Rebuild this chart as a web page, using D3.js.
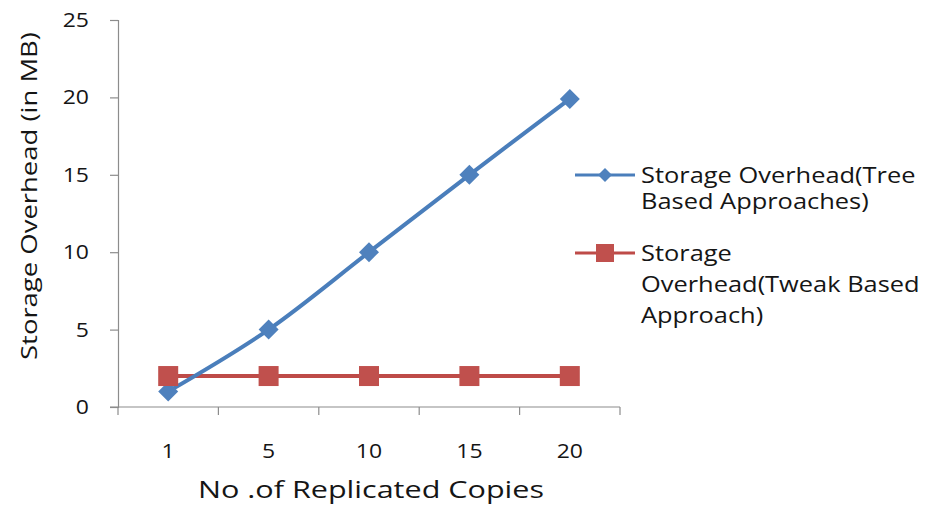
<!DOCTYPE html>
<html>
<head>
<meta charset="utf-8">
<script src="https://cdn.jsdelivr.net/npm/d3@7"></script>
<style>
  html, body { margin: 0; padding: 0; background: #fff; }
  svg { display: block; }
  text { font-family: "Open Sans", "Noto Sans", sans-serif; fill: #151515; }
</style>
</head>
<body>
<svg id="chart" width="935" height="505"></svg>
<script>
// Number of replicated copies (x categories)
const categories = ["1", "5", "10", "15", "20"];
// Storage overhead in MB for each approach
const treeBased = [1, 5, 10, 15, 19.9];
const tweakBased = [2, 2, 2, 2, 2];
const yTicks = [0, 5, 10, 15, 20, 25];
const seriesNames = [
  ["Storage Overhead(Tree", "Based Approaches)"],
  ["Storage", "Overhead(Tweak Based", "Approach)"]
];

const svg = d3.select("#chart");
const plot = { left: 118, right: 620, top: 20, bottom: 407 };

const x = d3.scaleBand().domain(categories).range([plot.left, plot.right]);
const y = d3.scaleLinear().domain([0, 25]).range([plot.bottom, plot.top]);

const axisColor = "#8c8c8c";

// Widen a text element's glyphs by a factor (the chart's face is a broad one)
function widen(sel, k) {
  sel.each(function () {
    const w = this.getComputedTextLength();
    d3.select(this).attr("textLength", w * k).attr("lengthAdjust", "spacingAndGlyphs");
  });
}

// Y axis
const yAxis = svg.append("g").attr("transform", `translate(${plot.left},0)`)
  .call(d3.axisLeft(y).tickValues(yTicks).tickSize(8).tickPadding(21));
yAxis.select(".domain").attr("stroke", axisColor).attr("stroke-width", 1.2);
yAxis.selectAll(".tick line").attr("stroke", axisColor).attr("stroke-width", 1.2);
yAxis.selectAll(".tick text").style("font-size", "20.5px").attr("fill", "#151515")
  .call(widen, 1.12);

// X axis: ticks between categories, labels at category centres
const xAxis = svg.append("g").attr("transform", `translate(0,${plot.bottom})`);
xAxis.append("line").attr("x1", plot.left - 8).attr("x2", plot.right)
  .attr("stroke", axisColor).attr("stroke-width", 1.2);
const boundaries = categories.map(c => x(c)).concat([plot.right]);
xAxis.selectAll("line.sep").data(boundaries).enter().append("line")
  .attr("class", "sep")
  .attr("x1", d => d).attr("x2", d => d)
  .attr("y1", 0).attr("y2", 8)
  .attr("stroke", axisColor).attr("stroke-width", 1.2);
xAxis.selectAll("text").data(categories).enter().append("text")
  .attr("x", d => x(d) + x.bandwidth() / 2)
  .attr("y", 51)
  .attr("text-anchor", "middle")
  .style("font-size", "20.5px")
  .text(d => d)
  .call(widen, 1.12);

// Axis titles
svg.append("text")
  .attr("x", 371).attr("y", 498)
  .attr("text-anchor", "middle")
  .style("font-size", "23.5px")
  .text("No .of Replicated Copies")
  .call(widen, 1.3);
svg.append("text")
  .attr("transform", `translate(37,196) rotate(-90)`)
  .attr("text-anchor", "middle")
  .style("font-size", "22.5px")
  .text("Storage Overhead (in MB)")
  .call(widen, 1.22);

const cx = d => x(d) + x.bandwidth() / 2;
const blue = "#4a7ebb", blueMarker = "#4f81bd";
const red = "#be4b48", redMarker = "#c0504d";

// Tweak-based series
const redLine = d3.line().x((d, i) => cx(categories[i])).y(d => y(d));
svg.append("path").datum(tweakBased)
  .attr("d", redLine).attr("fill", "none")
  .attr("stroke", red).attr("stroke-width", 4);

// Tree-based series (smoothed)
const blueLine = d3.line().x((d, i) => cx(categories[i])).y(d => y(d))
  .curve(d3.curveCatmullRom.alpha(0));
svg.append("path").datum(treeBased)
  .attr("d", blueLine).attr("fill", "none")
  .attr("stroke", blue).attr("stroke-width", 4);

const diamond = s => `M0,${-s}L${s},0L0,${s}L${-s},0Z`;

svg.selectAll("path.bm").data(treeBased).enter().append("path")
  .attr("class", "bm")
  .attr("transform", (d, i) => `translate(${cx(categories[i])},${y(d)})`)
  .attr("d", diamond(10)).attr("fill", blueMarker);

svg.selectAll("rect.rm").data(tweakBased).enter().append("rect")
  .attr("class", "rm")
  .attr("x", (d, i) => cx(categories[i]) - 10)
  .attr("y", d => y(d) - 10)
  .attr("width", 20).attr("height", 20)
  .attr("fill", redMarker);

// Legend
const legend = svg.append("g");
const legendRows = [
  { y: 175, color: blue, marker: blueMarker, kind: "diamond", lines: seriesNames[0], step: 26 },
  { y: 253, color: red, marker: redMarker, kind: "square", lines: seriesNames[1], step: 31 }
];
legendRows.forEach(r => {
  legend.append("line").attr("x1", 575).attr("x2", 635)
    .attr("y1", r.y).attr("y2", r.y)
    .attr("stroke", r.color).attr("stroke-width", 3);
  if (r.kind === "diamond") {
    legend.append("path").attr("transform", `translate(605,${r.y})`)
      .attr("d", diamond(7)).attr("fill", r.marker);
  } else {
    legend.append("rect").attr("x", 596).attr("y", r.y - 9)
      .attr("width", 18).attr("height", 18).attr("fill", r.marker);
  }
  r.lines.forEach((t, i) => {
    legend.append("text").attr("x", 641).attr("y", r.y + 8 + i * r.step)
      .style("font-size", "21px").text(t)
      .call(widen, 1.21);
  });
});
</script>
</body>
</html>
